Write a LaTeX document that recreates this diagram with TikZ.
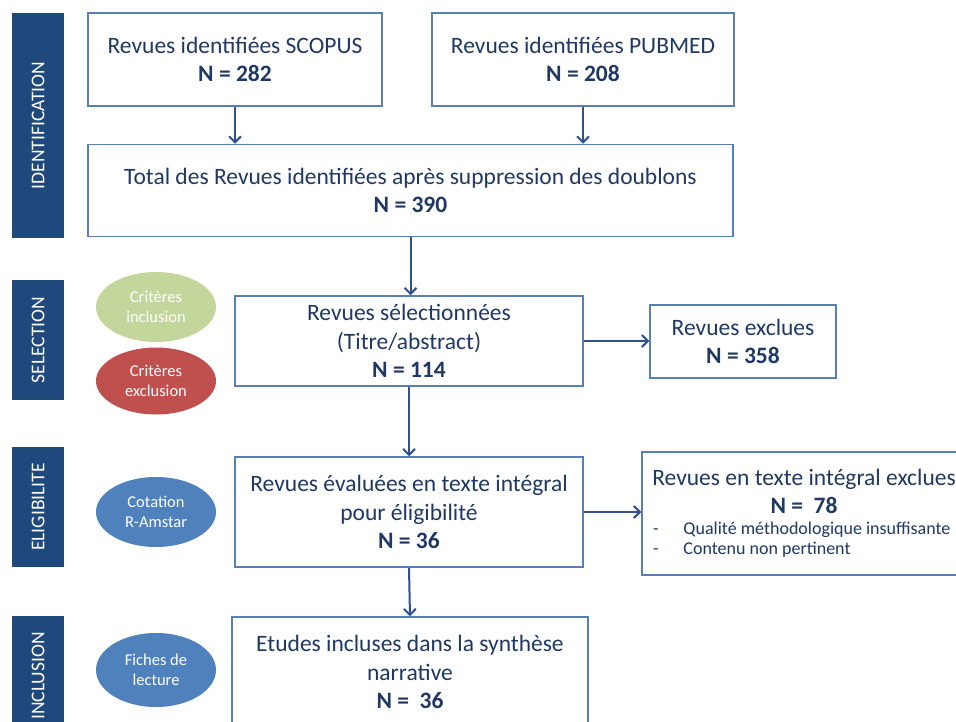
\documentclass[tikz,border=0pt]{standalone}
\usepackage{fontspec}
\setmainfont{Carlito}
\usetikzlibrary{shapes.geometric,arrows.meta}
\tikzset{flowbox/.style={draw=boxblue,line width=1.5pt,fill=white,text=textblue,align=center,inner sep=0pt,font=\fontsize{23.5}{28.5}\selectfont}, stagebar/.style={fill=stageblue,draw=none,text=white,rotate=90,inner sep=0pt,minimum height=52pt,font=\fontsize{19.5}{20}\selectfont}, critere/.style={ellipse,draw=none,text=white,align=center,inner sep=0pt,minimum width=120pt,minimum height=70pt,font=\fontsize{16.5}{20}\selectfont}, flowarrow/.style={draw=arrowblue,line width=2pt,-{Straight Barb[length=6pt,width=12pt]}}}
\definecolor{stageblue}{RGB}{31,73,125}
\definecolor{boxblue}{RGB}{88,128,180}
\definecolor{textblue}{RGB}{31,56,100}
\definecolor{arrowblue}{RGB}{47,82,143}
\definecolor{critgreen}{RGB}{195,214,155}
\definecolor{critred}{RGB}{192,80,77}
\definecolor{critblue}{RGB}{79,129,189}

\begin{document}
\begin{tikzpicture}[x=1pt,y=-1pt]
\useasboundingbox (0,0) rectangle (956,722);
\fill[white] (0,0) rectangle (956,722);
\clip (0,0) rectangle (956,722);
% phases
\node[stagebar,minimum width=225pt] (identif) at (38,125.5) {IDENTIFICATION};
\node[stagebar,minimum width=120pt] (select) at (38,340) {SELECTION};
\node[stagebar,minimum width=120pt] (eligib) at (38,507) {ELIGIBILITE};
\node[stagebar,minimum width=120pt] (inclus) at (38,676) {INCLUSION};
% criteres
\node[critere,fill=critgreen,minimum height=70pt] (critinc) at (156,307) {Critères\\inclusion};
\node[critere,fill=critred,minimum height=67pt] (critexc) at (156,381) {Critères\\exclusion};
\node[critere,fill=critblue] (amstar) at (156,512) {Cotation\\R-Amstar};
\node[critere,fill=critblue,minimum height=74pt] (fiches) at (156,670) {Fiches de\\lecture};
% boites
\node[flowbox,minimum width=294pt,minimum height=93pt] (scopus) at (235,59.5) {Revues identifiées SCOPUS\\\textbf{N = 282}};
\node[flowbox,minimum width=302pt,minimum height=93pt] (pubmed) at (583,59.5) {Revues identifiées PUBMED\\\textbf{N = 208}};
\node[flowbox,minimum width=645pt,minimum height=92pt] (total) at (410.5,190.5) {Total des Revues identifiées après suppression des doublons\\\textbf{N = 390}};
\node[flowbox,minimum width=348pt,minimum height=90pt] (selected) at (409,341) {Revues sélectionnées\\(Titre/abstract)\\\textbf{N = 114}};
\node[flowbox,minimum width=186pt,minimum height=73pt] (excl) at (743,341.5) {Revues exclues\\\textbf{N = 358}};
\node[flowbox,minimum width=348pt,minimum height=110pt] (fulltext) at (409,512) {Revues évaluées en texte intégral\\pour éligibilité\\\textbf{N = 36}};
\node[flowbox,minimum width=324pt,minimum height=123pt] (fullexcl) at (804,513.5) {\begin{minipage}{304pt}\centering Revues en texte intégral exclues\\\textbf{N =~~78}\par\fontsize{18}{20.5}\selectfont\raggedright\hspace*{1pt}-\hspace{25pt}Qualité méthodologique insuffisante\\\hspace*{1pt}-\hspace{25pt}Contenu non pertinent\par\end{minipage}};
\node[flowbox,minimum width=356pt,minimum height=110pt] (synth) at (410,672) {Etudes incluses dans la synthèse\\narrative\\\textbf{N =~~36}};
% fleches
\draw[flowarrow] (scopus.south) -- (scopus.south |- total.north);
\draw[flowarrow] (pubmed.south) -- (pubmed.south |- total.north);
\draw[flowarrow] (total.south) -- (total.south |- selected.north);
\draw[flowarrow] (selected.east) -- (selected.east -| excl.west);
\draw[flowarrow] (selected.south) -- (fulltext.north);
\draw[flowarrow] (fulltext.east) -- (fulltext.east -| fullexcl.west);
\draw[flowarrow] (fulltext.south) -- (synth.north);
\end{tikzpicture}
\end{document}
